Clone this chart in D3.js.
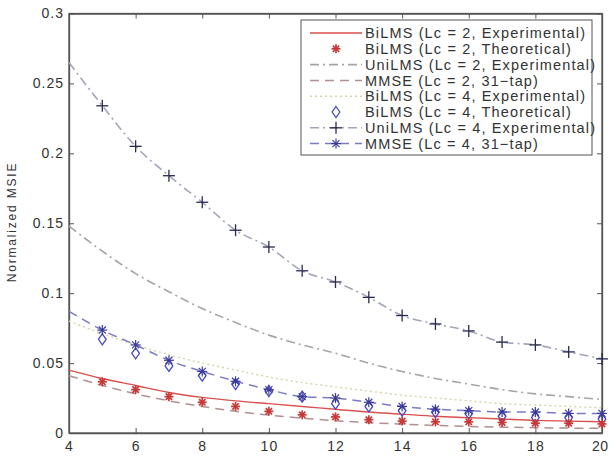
<!DOCTYPE html>
<html><head><meta charset="utf-8">
<script src="https://cdn.jsdelivr.net/npm/d3@7"></script>
<style>body{margin:0;background:#fff}svg{display:block}text{font-family:"Liberation Sans",Arial,sans-serif}</style>
</head><body><svg id="c" width="609" height="463"></svg>
<script>
const xs = [4,5,6,7,8,9,10,11,12,13,14,15,16,17,18,19,20];
const xm = [5,6,7,8,9,10,11,12,13,14,15,16,17,18,19,20];
const bilms2Exp = [0.045,0.039,0.034,0.029,0.0255,0.023,0.021,0.019,0.017,0.015,0.0135,0.012,0.011,0.010,0.009,0.0085,0.008];
const bilms2Theo = [0.0366,0.031,0.026,0.022,0.019,0.0155,0.013,0.0115,0.0095,0.0085,0.008,0.008,0.0075,0.007,0.007,0.0065];
const unilms2Exp = [0.148,0.130,0.114,0.101,0.089,0.079,0.070,0.063,0.057,0.050,0.044,0.039,0.035,0.031,0.028,0.026,0.024];
const mmse2 = [0.041,0.034,0.028,0.023,0.019,0.0155,0.0128,0.0106,0.0088,0.0074,0.0063,0.0054,0.0047,0.0042,0.0038,0.0035,0.0033];
const bilms4Exp = [0.080,0.071,0.063,0.056,0.050,0.045,0.040,0.036,0.033,0.030,0.027,0.025,0.023,0.021,0.020,0.019,0.018];
const bilms4Theo = [0.067,0.057,0.048,0.041,0.035,0.030,0.026,0.021,0.019,0.016,0.015,0.014,0.012,0.011,0.011,0.010];
const unilms4Exp = [0.265,0.234,0.205,0.184,0.165,0.145,0.133,0.116,0.108,0.097,0.084,0.078,0.073,0.065,0.063,0.058,0.053];
const mmse4 = [0.087,0.0736,0.063,0.052,0.044,0.037,0.031,0.026,0.025,0.022,0.019,0.017,0.016,0.015,0.015,0.014,0.014];
const xTicks = [4,6,8,10,12,14,16,18,20];
const yTicks = [0,0.05,0.1,0.15,0.2,0.25,0.3];
const yLabel = "Normalized MSIE";
const legendLabels = ["BiLMS (Lc = 2, Experimental)","BiLMS (Lc = 2, Theoretical)","UniLMS (Lc = 2, Experimental)","MMSE (Lc = 2, 31\u2212tap)","BiLMS (Lc = 4, Experimental)","BiLMS (Lc = 4, Theoretical)","UniLMS (Lc = 4, Experimental)","MMSE (Lc = 4, 31\u2212tap)"];

const svg = d3.select("#c");
const L=69, R=602, T=13.5, B=433;
const x = d3.scaleLinear().domain([4,20]).range([L,R]);
const y = d3.scaleLinear().domain([0,0.3]).range([B,T]);
const ax = "#555";

const g = svg.append("g");
const xb = g.append("g").attr("transform",`translate(0,${B})`).call(d3.axisBottom(x).tickValues(xTicks).tickSizeInner(-5).tickSizeOuter(0).tickPadding(8).tickFormat(d3.format("d")));
g.append("g").attr("transform",`translate(0,${T})`).call(d3.axisTop(x).tickValues(xTicks).tickSizeInner(-5).tickSizeOuter(0).tickFormat(""));
g.append("g").attr("transform",`translate(${L},0)`).call(d3.axisLeft(y).tickValues(yTicks).tickSizeInner(-5).tickSizeOuter(0).tickPadding(5).tickFormat(d=>d===0?"0":d3.format("")(+d.toFixed(2))));
g.append("g").attr("transform",`translate(${R},0)`).call(d3.axisRight(y).tickValues(yTicks).tickSizeInner(-5).tickSizeOuter(0).tickFormat(""));
g.selectAll(".domain").attr("stroke",ax).attr("stroke-width",1.3);
g.selectAll(".tick line").attr("stroke",ax);
g.selectAll(".tick text").attr("fill","#333").style("font-size","14px").style("letter-spacing","1px");
xb.selectAll(".tick text").filter(d=>d===20).attr("text-anchor","end").attr("x",6).style("letter-spacing","0.5px");
svg.append("rect").attr("x",L).attr("y",T).attr("width",R-L).attr("height",B-T).attr("fill","none").attr("stroke",ax).attr("stroke-width",1.3);

svg.append("text").attr("transform",`translate(16,222) rotate(-90)`).attr("text-anchor","middle").style("font-size","12px").style("letter-spacing","1.8px").attr("fill","#333").text(yLabel);

const line = d3.line().x((d,i)=>x(xs[i])).y(d=>y(d)).curve(d3.curveMonotoneX);
const styles = {
  bilms2Exp:{c:"#d9504f",dash:null,w:1.4},
  unilms2Exp:{c:"#a8a4a4",dash:"9,4,2,4",w:1.6},
  mmse2:{c:"#b09090",dash:"9,6",w:1.5},
  bilms4Exp:{c:"#d8d2a8",dash:"2,3",w:1.4},
  unilms4Exp:{c:"#a2a6b8",dash:"9,4,2,4",w:1.6},
  mmse4:{c:"#7a7ac8",dash:"9,6",w:1.5}
};
const plotLine=(data,s)=>svg.append("path").datum(data).attr("d",line).attr("fill","none").attr("stroke",s.c).attr("stroke-width",s.w).attr("stroke-dasharray",s.dash);
plotLine(unilms2Exp,styles.unilms2Exp);
plotLine(bilms4Exp,styles.bilms4Exp);
plotLine(unilms4Exp,styles.unilms4Exp);
plotLine(mmse4,styles.mmse4);
plotLine(mmse2,styles.mmse2);
plotLine(bilms2Exp,styles.bilms2Exp);

function star(sel,cx,cy,r,c,w){
  const gg=sel.append("g").attr("transform",`translate(${cx},${cy})`).attr("stroke",c).attr("stroke-width",w);
  for(let k=0;k<4;k++){const a=k*Math.PI/4;gg.append("line").attr("x1",-r*Math.cos(a)).attr("y1",-r*Math.sin(a)).attr("x2",r*Math.cos(a)).attr("y2",r*Math.sin(a));}
}
function plus(sel,cx,cy,r,c,w){
  const gg=sel.append("g").attr("transform",`translate(${cx},${cy})`).attr("stroke",c).attr("stroke-width",w);
  gg.append("line").attr("x1",-r).attr("x2",r).attr("y1",0).attr("y2",0);
  gg.append("line").attr("y1",-r).attr("y2",r).attr("x1",0).attr("x2",0);
}
function diamond(sel,cx,cy,r,c,w){
  sel.append("path").attr("d",`M${cx},${cy-r}L${cx+r*0.7},${cy}L${cx},${cy+r}L${cx-r*0.7},${cy}Z`).attr("fill","none").attr("stroke",c).attr("stroke-width",w);
}
const mk = svg.append("g");
unilms4Exp.slice(1).forEach((v,i)=>plus(mk,x(xm[i]),y(v),6,"#2a2a50",1.3));
bilms4Theo.forEach((v,i)=>diamond(mk,x(xm[i]),y(v),5.5,"#4a4ac0",1.3));
mmse4.slice(1).forEach((v,i)=>star(mk,x(xm[i]),y(v),5,"#3a3a9a",1.2));
bilms2Theo.forEach((v,i)=>star(mk,x(xm[i]),y(v),4.5,"#c83838",1.7));

const lg = svg.append("g");
lg.append("rect").attr("x",301).attr("y",20).attr("width",291).attr("height",135).attr("fill","#fff").attr("stroke",ax).attr("stroke-width",1);
const keys=["bilms2Exp","bilms2Theo","unilms2Exp","mmse2","bilms4Exp","bilms4Theo","unilms4Exp","mmse4"];
keys.forEach((k,i)=>{
  const yy=33+i*15.8;
  const s=styles[k];
  if(s) lg.append("line").attr("x1",310).attr("x2",362).attr("y1",yy).attr("y2",yy).attr("stroke",s.c).attr("stroke-width",s.w).attr("stroke-dasharray",s.dash);
  if(k==="bilms2Theo") star(lg,336,yy,4.5,"#c83838",1.7);
  if(k==="bilms4Theo") diamond(lg,336,yy,5.5,"#4a4ac0",1.3);
  if(k==="unilms4Exp") plus(lg,336,yy,6,"#2a2a50",1.3);
  if(k==="mmse4") star(lg,336,yy,5,"#3a3a9a",1.2);
  lg.append("text").attr("x",365).attr("y",yy).attr("dy","0.36em").style("font-size","14.5px").style("letter-spacing","1.15px").attr("fill","#333").text(legendLabels[i]);
});
</script></body></html>
